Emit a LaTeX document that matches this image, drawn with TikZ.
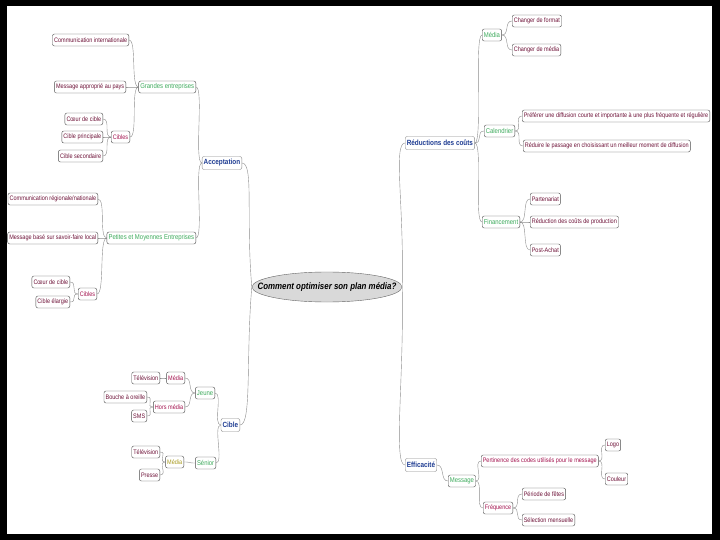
\documentclass[tikz,border=0pt]{standalone}
\usepackage{fontspec}
\setmainfont{Liberation Sans}
\newfontfamily\nar[FakeStretch=0.85]{Liberation Sans}
\newfontfamily\narb[FakeStretch=0.85]{Liberation Sans}
\usetikzlibrary{shapes.geometric}
\definecolor{leafc}{HTML}{6E1238}
\definecolor{greenc}{HTML}{3DAA5C}
\definecolor{bluec}{HTML}{1E3C92}
\definecolor{redc}{HTML}{A3124E}
\definecolor{olivec}{HTML}{A89A1E}
\tikzset{
  leaf/.style={draw=black!70, rounded corners=2pt, inner sep=1.6pt, minimum height=12pt,
    text=leafc, font=\nar\fontsize{6.5}{7.5}\selectfont, line width=0.4pt},
  lvtwo/.style={leaf, text=greenc, font=\nar\fontsize{7}{8}\selectfont},
  lvred/.style={leaf, text=redc, font=\nar\fontsize{6.5}{7.5}\selectfont},
  lvolive/.style={leaf, text=olivec, font=\nar\fontsize{6.5}{7.5}\selectfont},
  lvone/.style={leaf, draw=black!45, text=bluec, font=\narb\bfseries\fontsize{7.5}{9}\selectfont, minimum height=13pt},
  conn/.style={draw=black!45, line width=0.4pt},
}
\begin{document}
\begin{tikzpicture}[x=1pt,y=-1pt]
\fill[black] (0,0) rectangle (720,540);
\fill[white] (7,6) rectangle (712,534);
\useasboundingbox (0,0) rectangle (720,540);

% centre
\node[ellipse, draw=black!60, fill=gray!30, minimum width=150pt, minimum height=30pt, inner sep=0pt,
  label={[font=\narb\bfseries\itshape\fontsize{9.3}{11}\selectfont]center:Comment optimiser son plan média?}] (c) at (327,287) {};

% level 1
\node[lvone, anchor=east] (acc) at (242,163) {Acceptation};
\node[lvone, anchor=east] (cib) at (240,425) {Cible};
\node[lvone, anchor=west] (red) at (405,143) {Réductions des coûts};
\node[lvone, anchor=west] (eff) at (405,465) {Efficacité};

% Acceptation
\node[lvtwo, anchor=east] (ge) at (196,87) {Grandes entreprises};
\node[leaf, anchor=east] (ci) at (129,40) {Communication internationale};
\node[leaf, anchor=east] (map) at (126,87) {Message approprié au pays};
\node[lvred, anchor=east] (cba) at (130,137) {Cibles};
\node[leaf, anchor=east] (cca) at (103,119) {Cœur de cible};
\node[leaf, anchor=east] (cpa) at (103,137) {Cible principale};
\node[leaf, anchor=east] (csa) at (103,156) {Cible secondaire};
\node[lvtwo, anchor=east] (pme) at (196,238) {Petites et Moyennes Entreprises};
\node[leaf, anchor=east] (crn) at (98,199) {Communication régionale/nationale};
\node[leaf, anchor=east] (mbs) at (98,238) {Message basé sur savoir-faire local};
\node[lvred, anchor=east] (cbb) at (97,294) {Cibles};
\node[leaf, anchor=east] (ccb) at (70,282) {Cœur de cible};
\node[leaf, anchor=east] (ceb) at (70,302) {Cible élargie};

% Cible
\node[lvtwo, anchor=east] (jeu) at (215,393) {Jeune};
\node[lvred, anchor=east] (mj) at (185,378) {Média};
\node[leaf, anchor=east] (tva) at (160,378) {Télévision};
\node[lvred, anchor=east] (hm) at (185,407) {Hors média};
\node[leaf, anchor=east] (bao) at (147,397) {Bouche à oreille};
\node[leaf, anchor=east] (sms) at (147,416) {SMS};
\node[lvtwo, anchor=east] (sen) at (216,463) {Sénior};
\node[lvolive, anchor=east] (ms) at (184,462) {Média};
\node[leaf, anchor=east] (tvb) at (160,452) {Télévision};
\node[leaf, anchor=east] (pr) at (160,475) {Presse};

% Reductions des couts
\node[lvtwo, anchor=west] (med) at (482,35) {Média};
\node[leaf, anchor=west] (cf) at (512,21) {Changer de format};
\node[leaf, anchor=west] (cm) at (512,50) {Changer de média};
\node[lvtwo, anchor=west] (cal) at (484,131) {Calendrier};
\node[leaf, anchor=west] (pre) at (522,116) {Préférer une diffusion courte et importante à une plus fréquente et régulière};
\node[leaf, anchor=west] (rdp) at (523,146) {Réduire le passage en choisissant un meilleur moment de diffusion};
\node[lvtwo, anchor=west] (fin) at (482,222) {Financement};
\node[leaf, anchor=west] (par) at (530,199) {Partenariat};
\node[leaf, anchor=west] (rcp) at (530,222) {Réduction des coûts de production};
\node[leaf, anchor=west] (pa) at (530,250) {Post-Achat};

% Efficacite
\node[lvtwo, anchor=west] (msg) at (448,481) {Message};
\node[lvred, anchor=west] (pert) at (481,461) {Pertinence des codes utilisés pour le message};
\node[leaf, anchor=west] (logo) at (605,445) {Logo};
\node[leaf, anchor=west] (coul) at (605,479) {Couleur};
\node[lvred, anchor=west] (freq) at (483,508) {Fréquence};
\node[leaf, anchor=west] (pdf) at (522,494) {Période de fêtes};
\node[leaf, anchor=west] (sm) at (522,520) {Sélection mensuelle};

% centre connectors
\draw[conn] (c.west) .. controls +(-6,-70) and +(12,0) .. (acc.east);
\draw[conn] (c.west) .. controls +(-6,70) and +(12,0) .. (cib.east);
\draw[conn] (c.east) .. controls +(2,-80) and +(-12,0) .. (red.west);
\draw[conn] (c.east) .. controls +(2,90) and +(-12,0) .. (eff.west);

% left connectors
\foreach \p/\ch in {acc/ge, acc/pme, ge/ci, ge/map, ge/cba, cba/cca, cba/cpa, cba/csa,
  pme/crn, pme/mbs, pme/cbb, cbb/ccb, cbb/ceb,
  cib/jeu, cib/sen, jeu/mj, jeu/hm, mj/tva, hm/bao, hm/sms, sen/ms, ms/tvb, ms/pr}
  \draw[conn] (\p.west) .. controls +(-8,0) and +(8,0) .. (\ch.east);

% right connectors
\foreach \p/\ch in {red/med, red/cal, red/fin, med/cf, med/cm, cal/pre, cal/rdp,
  fin/par, fin/rcp, fin/pa, eff/msg, msg/pert, msg/freq, pert/logo, pert/coul, freq/pdf, freq/sm}
  \draw[conn] (\p.east) .. controls +(8,0) and +(-8,0) .. (\ch.west);
\end{tikzpicture}
\end{document}
